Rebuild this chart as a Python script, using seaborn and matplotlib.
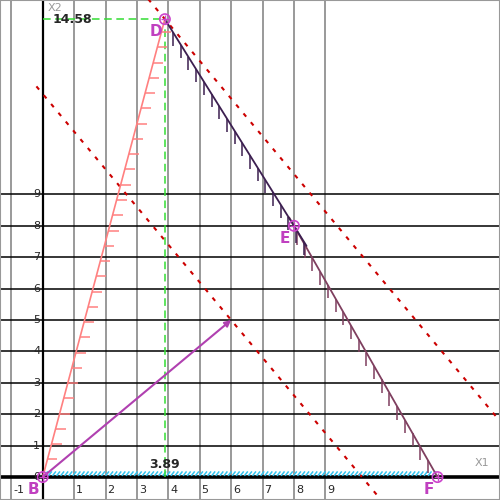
import numpy as np
import pandas as pd
import seaborn as sns
import matplotlib.pyplot as plt
from matplotlib.collections import LineCollection

# Constraint lines a*x1 + b*x2 = c
PINK = [-15, 4, 0]
DARK = [8, 5, 104]
MAROON = [7, 4, 88]
OBJECTIVE = [6, 5]
LEVELS = [61, 96.25]
LEVEL_X = [[-0.2, 10.65], [3.3, 14.56]]

# Vertices of the feasible region
POINT_NAMES = ['B', 'D', 'E', 'F']
POINT_X = [0, 3.89, 8, 12.57]
POINT_Y = [0, 14.58, 8, 0]

# x-range drawn for each constraint
DARK_X = [3.89, 8.4]
MAROON_X = [7.85, 12.57]

X_TICKS = [-1, 1, 2, 3, 4, 5, 6, 7, 8, 9]
Y_TICKS = [0, 1, 2, 3, 4, 5, 6, 7, 8, 9]

XLIM = (-1.36, 14.56)
YLIM = (-0.73, 15.19)


def line_y(coef, x):
    a, b, c = coef
    return (c - a * np.asarray(x, dtype=float)) / b


sns.set_style('white')
plt.rcParams['font.family'] = ['DejaVu Sans']

fig = plt.figure(figsize=(5, 5), dpi=100)
ax = fig.add_axes([0, 0, 1, 1])
ax.set_xlim(*XLIM)
ax.set_ylim(*YLIM)
ax.set_xticks([])
ax.set_yticks([])
for s in ax.spines.values():
    s.set_color('#999999')
    s.set_linewidth(1.5)

# grid
for x in X_TICKS:
    ax.axvline(x, color='#888888', lw=1.2, zorder=1)
    ax.text(x + 0.06, -0.25, str(x), fontsize=8, ha='left', va='top')
for y in Y_TICKS[1:]:
    ax.axhline(y, color='black', lw=1.1, zorder=1)
for y in Y_TICKS:
    ax.text(-0.08, y, str(y), fontsize=8, ha='right', va='center')
ax.axhline(0, color='black', lw=2.6, zorder=2)
ax.axvline(0, color='black', lw=1.6, zorder=2)
ax.text(0.15, 14.95, 'X2', color='#999999', fontsize=8, ha='left', va='center')
ax.text(14.0, 0.45, 'X1', color='#999999', fontsize=8, ha='center', va='center')

# objective level lines
for lv, xr in zip(LEVELS, LEVEL_X):
    xs = np.array(xr)
    ax.plot(xs, line_y([OBJECTIVE[0], OBJECTIVE[1], lv], xs), color='#cc0000',
            lw=1.5, dashes=(2, 3.5), zorder=3)

# constraints
pink_y = [0, POINT_Y[1]]
sns.lineplot(x=[p * PINK[1] / -PINK[0] for p in pink_y], y=pink_y, color='#ff8080',
             lw=1.2, ax=ax, zorder=4)
hy = np.arange(0.56, 14.5, 0.486)
segs = [[(h * PINK[1] / -PINK[0], h), (h * PINK[1] / -PINK[0] + 0.32, h)] for h in hy]
ax.add_collection(LineCollection(segs, colors='#ff8080', lw=1.1, zorder=4))

dark_df = pd.DataFrame({'x': DARK_X, 'y': line_y(DARK, DARK_X)})
sns.lineplot(data=dark_df, x='x', y='y', color='#3c1f50', lw=1.3, ax=ax, zorder=5)
hx = np.arange(4.15, 8.4, 0.245)
segs = [[(h, line_y(DARK, h)), (h, line_y(DARK, h) - 0.42)] for h in hx]
ax.add_collection(LineCollection(segs, colors='#3c1f50', lw=1.1, zorder=5))

maroon_df = pd.DataFrame({'x': MAROON_X, 'y': line_y(MAROON, MAROON_X)})
sns.lineplot(data=maroon_df, x='x', y='y', color='#7f3f5f', lw=1.3, ax=ax, zorder=4)
hx = np.arange(8.1, 12.5, 0.245)
segs = [[(h, line_y(MAROON, h)), (h, max(line_y(MAROON, h) - 0.42, 0.05))] for h in hx]
ax.add_collection(LineCollection(segs, colors='#7f3f5f', lw=1.1, zorder=4))

# x2 >= 0 hatch
hx = np.arange(0.05, POINT_X[3] - 0.1, 0.13)
segs = [[(h, 0.04), (h + 0.11, 0.18)] for h in hx]
ax.add_collection(LineCollection(segs, colors='#33c4ee', lw=1.1, zorder=3))

# gradient arrow
ax.annotate('', xy=(OBJECTIVE[0], OBJECTIVE[1]), xytext=(0, 0),
            arrowprops=dict(arrowstyle='-|>', color='#b040b0', lw=1.5,
                            mutation_scale=9, shrinkA=0, shrinkB=0), zorder=6)

# optimum guides
dx, dy = POINT_X[1], POINT_Y[1]
ax.plot([0, dx], [dy, dy], color='#33dd33', lw=1.1, dashes=(5, 3), zorder=3)
ax.plot([dx, dx], [0, dy], color='#33dd33', lw=1.1, dashes=(5, 3), zorder=3)
ax.text(0.3, dy, f'{dy:.2f}', fontsize=9, fontweight='bold', ha='left', va='center')
ax.text(dx, 0.2, f'{dx:.2f}', fontsize=9, fontweight='bold', ha='center', va='bottom')

# vertices
pts = pd.DataFrame({'name': POINT_NAMES, 'x': POINT_X, 'y': POINT_Y})
sns.scatterplot(data=pts, x='x', y='y', marker='o', s=55, facecolor='none',
                edgecolor='#cc44cc', linewidth=1.2, ax=ax, zorder=7)
sns.scatterplot(data=pts, x='x', y='y', marker='+', s=40, color='#cc44cc',
                linewidth=1.0, ax=ax, zorder=7)
for _, r in pts.iterrows():
    ax.annotate(r['name'], (r['x'], r['y']), xytext=(-6.5, -9),
                textcoords='offset points', color='#c040c0', fontsize=11,
                fontweight='bold', ha='center', va='center', zorder=8)

ax.set_xlabel('')
ax.set_ylabel('')
fig.savefig('out.png', dpi=100)
